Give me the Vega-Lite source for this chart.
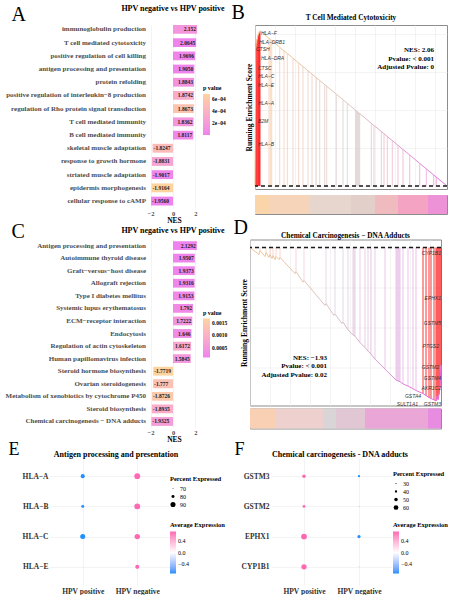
{
  "$schema": "https://vega.github.io/schema/vega-lite/v6.json",
  "background": "white",
  "padding": {"left": 5, "top": 1, "right": 0, "bottom": 0},
  "config": {
    "font": "Liberation Serif",
    "view": {"stroke": null},
    "axis": {"labelFont": "Liberation Serif", "titleFont": "Liberation Serif", "gridColor": "#EBEBEB", "gridWidth": 0.6, "domain": false, "ticks": false},
    "legend": {"labelFont": "Liberation Serif", "titleFont": "Liberation Serif"},
    "title": {"font": "Liberation Serif", "fontWeight": "bold", "color": "black", "frame": "group"}
  },
  "datasets": {
    "aTerms": [
      {"term": "immunoglobulin production", "NES": 2.152, "label": "2.152", "p": 0.00016},
      {"term": "T cell mediated cytotoxicity", "NES": 2.0645, "label": "2.0645", "p": 0.00002},
      {"term": "positive regulation of cell killing", "NES": 1.9696, "label": "1.9696", "p": 0.00003},
      {"term": "antigen processing and presentation", "NES": 1.905, "label": "1.9050", "p": 0.00002},
      {"term": "protein refolding", "NES": 1.8843, "label": "1.8843", "p": 0.00014},
      {"term": "positive regulation of interleukin−8 production", "NES": 1.8742, "label": "1.8742", "p": 0.00034},
      {"term": "regulation of Rho protein signal transduction", "NES": 1.8673, "label": "1.8673", "p": 0.00054},
      {"term": "T cell mediated immunity", "NES": 1.8362, "label": "1.8362", "p": 0.00016},
      {"term": "B cell mediated immunity", "NES": 1.8117, "label": "1.8117", "p": 0.00005},
      {"term": "skeletal muscle adaptation", "NES": -1.8247, "label": "-1.8247", "p": 0.00048},
      {"term": "response to growth hormone", "NES": -1.8831, "label": "-1.8831", "p": 0.00028},
      {"term": "striated muscle adaptation", "NES": -1.9017, "label": "-1.9017", "p": 0.00004},
      {"term": "epidermis morphogenesis", "NES": -1.9164, "label": "-1.9164", "p": 0.00068},
      {"term": "cellular response to cAMP", "NES": -1.956, "label": "-1.9560", "p": 0.000005}
    ],
    "cTerms": [
      {"term": "Antigen processing and presentation", "NES": 2.1292, "label": "2.1292", "p": 0.0001},
      {"term": "Autoimmune thyroid disease", "NES": 1.9507, "label": "1.9507", "p": 0.00015},
      {"term": "Graft−versus−host disease", "NES": 1.9373, "label": "1.9373", "p": 0.00015},
      {"term": "Allograft rejection", "NES": 1.9316, "label": "1.9316", "p": 0.00018},
      {"term": "Type I diabetes mellitus", "NES": 1.9153, "label": "1.9153", "p": 0.0002},
      {"term": "Systemic lupus erythematosus", "NES": 1.792, "label": "1.792", "p": 0.00025},
      {"term": "ECM−receptor interaction", "NES": 1.7222, "label": "1.7222", "p": 0.00045},
      {"term": "Endocytosis", "NES": 1.646, "label": "1.646", "p": 0.00025},
      {"term": "Regulation of actin cytoskeleton", "NES": 1.6172, "label": "1.6172", "p": 0.0008},
      {"term": "Human papillomavirus infection", "NES": 1.5845, "label": "1.5845", "p": 0.0005},
      {"term": "Steroid hormone biosynthesis", "NES": -1.7719, "label": "-1.7719", "p": 0.00166},
      {"term": "Ovarian steroidogenesis", "NES": -1.777, "label": "-1.777", "p": 0.0013},
      {"term": "Metabolism of xenobiotics by cytochrome P450", "NES": -1.8726, "label": "-1.8726", "p": 0.00145},
      {"term": "Steroid biosynthesis", "NES": -1.8935, "label": "-1.8935", "p": 0.0009},
      {"term": "Chemical carcinogenesis − DNA adducts", "NES": -1.9325, "label": "-1.9325", "p": 0.0006}
    ],
    "bES": [
      {"rank": 0, "es": 0, "type": "curve"},
      {"rank": 0.7, "es": 0.72, "type": "core"},
      {"rank": 1.2, "es": 0.75, "type": "core"},
      {"rank": 2, "es": 0.77, "type": "core"},
      {"rank": 2.8, "es": 0.79, "type": "core"},
      {"rank": 3.6, "es": 0.8, "type": "core"},
      {"rank": 4.4, "es": 0.81, "type": "core"},
      {"rank": 5, "es": 0.816, "type": "core"},
      {"rank": 14, "es": 0.777, "type": "hit"},
      {"rank": 15.3, "es": 0.771, "type": "hit"},
      {"rank": 16.7, "es": 0.765, "type": "hit"},
      {"rank": 24.7, "es": 0.73, "type": "hit"},
      {"rank": 29, "es": 0.711, "type": "hit"},
      {"rank": 32.3, "es": 0.697, "type": "hit"},
      {"rank": 38, "es": 0.672, "type": "hit"},
      {"rank": 43.7, "es": 0.647, "type": "hit"},
      {"rank": 48, "es": 0.628, "type": "hit"},
      {"rank": 53, "es": 0.606, "type": "hit"},
      {"rank": 57, "es": 0.589, "type": "hit"},
      {"rank": 61.3, "es": 0.57, "type": "hit"},
      {"rank": 64.7, "es": 0.555, "type": "hit"},
      {"rank": 69.7, "es": 0.534, "type": "hit"},
      {"rank": 71.7, "es": 0.525, "type": "hit"},
      {"rank": 81.3, "es": 0.483, "type": "hit"},
      {"rank": 88, "es": 0.454, "type": "hit"},
      {"rank": 92.3, "es": 0.435, "type": "hit"},
      {"rank": 100.7, "es": 0.398, "type": "hit"},
      {"rank": 101.7, "es": 0.394, "type": "hit"},
      {"rank": 102.7, "es": 0.39, "type": "hit"},
      {"rank": 103.7, "es": 0.385, "type": "hit"},
      {"rank": 104.7, "es": 0.381, "type": "hit"},
      {"rank": 116.3, "es": 0.33, "type": "hit"},
      {"rank": 119, "es": 0.318, "type": "hit"},
      {"rank": 126.3, "es": 0.287, "type": "hit"},
      {"rank": 129, "es": 0.275, "type": "hit"},
      {"rank": 132.3, "es": 0.26, "type": "hit"},
      {"rank": 137.3, "es": 0.239, "type": "hit"},
      {"rank": 143, "es": 0.214, "type": "hit"},
      {"rank": 148, "es": 0.192, "type": "hit"},
      {"rank": 154.7, "es": 0.163, "type": "hit"},
      {"rank": 164.7, "es": 0.119, "type": "hit"},
      {"rank": 171.3, "es": 0.09, "type": "hit"},
      {"rank": 178.7, "es": 0.058, "type": "hit"},
      {"rank": 181.3, "es": 0.047, "type": "hit"},
      {"rank": 192, "es": 0, "type": "curve"}
    ],
    "bGenes": [
      {"gene": "HLA−F", "rank": 6, "es": 0.805},
      {"gene": "HLA−DRB1", "rank": 4, "es": 0.758},
      {"gene": "CTSH", "rank": 1, "es": 0.721},
      {"gene": "HLA−DRA", "rank": 6, "es": 0.674},
      {"gene": "CTSC", "rank": 3, "es": 0.621},
      {"gene": "HLA−C", "rank": 3, "es": 0.579},
      {"gene": "HLA−E", "rank": 3, "es": 0.532},
      {"gene": "HLA−A", "rank": 3, "es": 0.437},
      {"gene": "B2M", "rank": 3, "es": 0.342},
      {"gene": "HLA−B", "rank": 3, "es": 0.221}
    ],
    "bStrip": [
      {"start": 0, "end": 15, "pos": 7.5},
      {"start": 15, "end": 55, "pos": 35},
      {"start": 55, "end": 96, "pos": 75.5},
      {"start": 96, "end": 120, "pos": 108},
      {"start": 120, "end": 143, "pos": 131.5},
      {"start": 143, "end": 173, "pos": 158},
      {"start": 173, "end": 192, "pos": 182.5}
    ],
    "dES": [
      {"rank": 0, "es": 0, "type": "curve"},
      {"rank": 9, "es": -0.035, "type": "curve"},
      {"rank": 10, "es": -0.015, "type": "hit"},
      {"rank": 15, "es": -0.045, "type": "curve"},
      {"rank": 16, "es": -0.025, "type": "hit"},
      {"rank": 19, "es": -0.05, "type": "curve"},
      {"rank": 20, "es": -0.035, "type": "hit"},
      {"rank": 22, "es": -0.055, "type": "curve"},
      {"rank": 23, "es": -0.04, "type": "hit"},
      {"rank": 25, "es": -0.06, "type": "curve"},
      {"rank": 26, "es": -0.045, "type": "hit"},
      {"rank": 29, "es": -0.06, "type": "curve"},
      {"rank": 30, "es": -0.05, "type": "hit"},
      {"rank": 45, "es": -0.13, "type": "curve"},
      {"rank": 46, "es": -0.12, "type": "hit"},
      {"rank": 53, "es": -0.173, "type": "curve"},
      {"rank": 54, "es": -0.165, "type": "hit"},
      {"rank": 75, "es": -0.29, "type": "curve"},
      {"rank": 76, "es": -0.28, "type": "hit"},
      {"rank": 84, "es": -0.34, "type": "curve"},
      {"rank": 85, "es": -0.333, "type": "hit"},
      {"rank": 92, "es": -0.38, "type": "curve"},
      {"rank": 93, "es": -0.373, "type": "hit"},
      {"rank": 98, "es": -0.412, "type": "hit"},
      {"rank": 103, "es": -0.437, "type": "hit"},
      {"rank": 104, "es": -0.44, "type": "hit"},
      {"rank": 105, "es": -0.443, "type": "hit"},
      {"rank": 110, "es": -0.475, "type": "hit"},
      {"rank": 115, "es": -0.5, "type": "hit"},
      {"rank": 118, "es": -0.518, "type": "hit"},
      {"rank": 121, "es": -0.533, "type": "hit"},
      {"rank": 125, "es": -0.558, "type": "hit"},
      {"rank": 135, "es": -0.608, "type": "hit"},
      {"rank": 146, "es": -0.663, "type": "hit"},
      {"rank": 147, "es": -0.665, "type": "hit"},
      {"rank": 148, "es": -0.667, "type": "hit"},
      {"rank": 149, "es": -0.669, "type": "hit"},
      {"rank": 150, "es": -0.671, "type": "hit"},
      {"rank": 153, "es": -0.682, "type": "hit"},
      {"rank": 158, "es": -0.693, "type": "hit"},
      {"rank": 163, "es": -0.706, "type": "hit"},
      {"rank": 166, "es": -0.715, "type": "hit"},
      {"rank": 173, "es": -0.73, "type": "core"},
      {"rank": 176, "es": -0.74, "type": "core"},
      {"rank": 179, "es": -0.75, "type": "core"},
      {"rank": 181, "es": -0.755, "type": "core"},
      {"rank": 184, "es": -0.762, "type": "core"},
      {"rank": 186, "es": -0.767, "type": "core"},
      {"rank": 187, "es": -0.745, "type": "core"},
      {"rank": 188, "es": -0.76, "type": "core"},
      {"rank": 189, "es": -0.735, "type": "core"},
      {"rank": 190, "es": -0.7, "type": "core"},
      {"rank": 191, "es": -0.59, "type": "core"}
    ],
    "dGenes": [
      {"gene": "CYP1B1", "rank": 191, "es": -0.025},
      {"gene": "EPHX1", "rank": 191, "es": -0.25},
      {"gene": "GSTM5", "rank": 191, "es": -0.375},
      {"gene": "PTGS2", "rank": 189, "es": -0.49},
      {"gene": "GSTM2", "rank": 189, "es": -0.595},
      {"gene": "GSTM4", "rank": 191, "es": -0.65},
      {"gene": "AKR1C2", "rank": 191, "es": -0.7},
      {"gene": "GSTA4", "rank": 171, "es": -0.74},
      {"gene": "SULT1A1", "rank": 168, "es": -0.78},
      {"gene": "GSTM3", "rank": 191, "es": -0.78}
    ],
    "dStrip": [
      {"start": 0, "end": 26, "pos": 13},
      {"start": 26, "end": 73, "pos": 49.5},
      {"start": 73, "end": 86, "pos": 79.5},
      {"start": 86, "end": 115, "pos": 100.5},
      {"start": 115, "end": 178, "pos": 146.5},
      {"start": 178, "end": 191, "pos": 184.5}
    ],
    "eDots": [
      {"gene": "HLA−A", "group": "HPV positive", "pct": 85, "avg": -0.7071},
      {"gene": "HLA−A", "group": "HPV negative", "pct": 93.5, "avg": 0.7071},
      {"gene": "HLA−B", "group": "HPV positive", "pct": 80, "avg": -0.7071},
      {"gene": "HLA−B", "group": "HPV negative", "pct": 93, "avg": 0.7071},
      {"gene": "HLA−C", "group": "HPV positive", "pct": 89.5, "avg": -0.7071},
      {"gene": "HLA−C", "group": "HPV negative", "pct": 91.5, "avg": 0.7071},
      {"gene": "HLA−E", "group": "HPV positive", "pct": 67, "avg": -0.7071},
      {"gene": "HLA−E", "group": "HPV negative", "pct": 85, "avg": 0.7071}
    ],
    "fDots": [
      {"gene": "GSTM3", "group": "HPV positive", "pct": 50, "avg": 0.7071},
      {"gene": "GSTM3", "group": "HPV negative", "pct": 40, "avg": -0.7071},
      {"gene": "GSTM2", "group": "HPV positive", "pct": 44, "avg": 0.7071},
      {"gene": "GSTM2", "group": "HPV negative", "pct": 24, "avg": -0.7071},
      {"gene": "EPHX1", "group": "HPV positive", "pct": 69, "avg": 0.7071},
      {"gene": "EPHX1", "group": "HPV negative", "pct": 47, "avg": -0.7071},
      {"gene": "CYP1B1", "group": "HPV positive", "pct": 65, "avg": 0.7071},
      {"gene": "CYP1B1", "group": "HPV negative", "pct": 24, "avg": -0.7071}
    ]
  },
  "resolve": {"scale": {"color": "independent", "size": "independent"}, "legend": {"color": "independent", "size": "independent"}},
  "spacing": -3,
  "vconcat": [
    {
      "resolve": {"scale": {"color": "independent", "size": "independent"}, "legend": {"color": "independent", "size": "independent"}},
      "spacing": -7.5,
      "vconcat": [
        {
          "resolve": {"scale": {"color": "independent"}, "legend": {"color": "independent"}},
          "spacing": 56,
          "bounds": "flush",
          "hconcat": [
            {
              "width": 149, "height": 183,
              "title": {"text": "HPV negative vs HPV positive", "anchor": "middle", "dx": 48.5, "offset": -9, "fontSize": 8},
              "data": {"name": "aTerms"},
              "encoding": {
                "y": {"field": "term", "type": "nominal", "sort": null,
                  "scale": {"paddingInner": 0.33, "paddingOuter": 0.095, "align": 0},
                  "axis": {"title": "A", "titleX": -136, "titleY": -21, "titleAngle": 0, "titleAlign": "left", "titleBaseline": "top", "titleFontSize": 20, "titleFontWeight": "normal", "titleColor": "black", "offset": -97, "labelFontSize": 7, "labelFontWeight": "bold", "labelColor": "#4D4D4D", "labelPadding": 1.5, "labelLimit": 0, "grid": false}}
              },
              "layer": [
                {
                  "mark": {"type": "bar"},
                  "encoding": {
                    "x": {"field": "NES", "type": "quantitative", "scale": {"domain": [-10.982, 2.321], "nice": false},
                      "axis": {"title": "NES", "values": [-2, -1, 0, 1, 2], "format": "d", "labelOverlap": false, "labelFlush": false, "labelFontSize": 6.5, "labelFontWeight": "bold", "labelColor": "#4D4D4D", "labelPadding": 2, "titleFontSize": 7.5, "titleFontWeight": "bold", "titleX": 124, "titleY": 8, "titleAlign": "center", "titleBaseline": "top", "grid": true}},
                    "color": {"field": "p", "type": "quantitative",
                      "scale": {"domain": [0.000005, 0.00068], "range": ["#EE82EE", "#FDD3A0"], "interpolate": "lab"},
                      "legend": {"title": "p value", "orient": "none", "legendX": 153, "legendY": 60, "direction": "vertical", "gradientLength": 41, "gradientThickness": 7, "gradientStrokeWidth": 0, "values": [0.0002, 0.0004, 0.0006], "labelExpr": "format(datum.value * 10000, '.0f') + 'e−04'", "titleFontSize": 6, "titleFontWeight": "bold", "labelFontSize": 5.5, "labelFontWeight": "bold", "labelOffset": 2, "titlePadding": 3}}
                  }
                },
                {
                  "transform": [{"filter": "datum.NES > 0"}],
                  "mark": {"type": "text", "align": "right", "baseline": "middle", "dx": -1, "fontSize": 5.5, "fontWeight": "bold", "color": "#1A1A1A"},
                  "encoding": {"x": {"field": "NES", "type": "quantitative"}, "text": {"field": "label"}}
                },
                {
                  "transform": [{"filter": "datum.NES < 0"}],
                  "mark": {"type": "text", "align": "left", "baseline": "middle", "dx": 1, "fontSize": 5.5, "fontWeight": "bold", "color": "#1A1A1A"},
                  "encoding": {"x": {"field": "NES", "type": "quantitative"}, "text": {"field": "label"}}
                }
              ]
            },
            {
              "resolve": {"scale": {"color": "independent"}, "legend": {"color": "independent"}},
              "spacing": 6,
              "bounds": "flush",
              "vconcat": [
                {
                  "width": 192, "height": 164,
                  "view": {"stroke": "#8C8C8C", "strokeWidth": 1},
                  "title": {"text": "T Cell Mediated Cytotoxicity", "fontSize": 7.3, "offset": -19},
                  "layer": [
                    {
                      "data": {"name": "bES"},
                      "transform": [{"filter": "datum.type !== 'curve'"}],
                      "mark": {"type": "rule", "strokeWidth": 0.8},
                      "encoding": {
                        "x": {"field": "rank", "type": "quantitative", "scale": {"domain": [0, 192], "nice": false, "zero": false},
                          "axis": {"title": "B", "titleX": -24, "titleY": -187, "titleAngle": 0, "titleAlign": "left", "titleBaseline": "top", "titleFontSize": 20, "titleFontWeight": "normal", "titleColor": "black", "labels": false, "grid": true, "tickCount": 8}},
                        "y": {"field": "es", "type": "quantitative", "scale": {"domain": [-0.0158, 0.847], "nice": false, "zero": false},
                          "axis": {"title": "Running Enrichment Score", "labels": false, "grid": true, "tickCount": 5, "titleFontSize": 7.5, "titleFontWeight": "bold", "titlePadding": 2, "titleColor": "black"}},
                        "y2": {"datum": 0},
                        "color": {"condition": {"test": "datum.type === 'core'", "value": "#FF0000"}, "field": "rank", "type": "quantitative",
                          "scale": {"domain": [0, 96, 192], "range": ["#F7C48E", "#CBC4C4", "#E583E1"]}, "legend": null},
                        "opacity": {"condition": {"test": "datum.type === 'core'", "value": 1}, "value": 0.8}
                      }
                    },
                    {
                      "data": {"name": "bES"},
                      "mark": {"type": "line", "strokeWidth": 1,
                        "color": {"gradient": "linear", "x1": 0, "x2": 1, "y1": 0, "y2": 0, "stops": [{"offset": 0, "color": "#F8C48C"}, {"offset": 0.5, "color": "#D9C6C0"}, {"offset": 1, "color": "#E36FE2"}]}},
                      "encoding": {"x": {"field": "rank", "type": "quantitative"}, "y": {"field": "es", "type": "quantitative"}}
                    },
                    {
                      "data": {"values": [{}]},
                      "mark": {"type": "rule", "strokeDash": [4, 3], "color": "#1A1A1A", "strokeWidth": 1.3},
                      "encoding": {"y": {"datum": 0, "type": "quantitative"}}
                    },
                    {
                      "data": {"name": "bGenes"},
                      "mark": {"type": "text", "align": "left", "baseline": "middle", "font": "Liberation Sans", "fontStyle": "italic", "fontSize": 5, "color": "#333333"},
                      "encoding": {"x": {"field": "rank", "type": "quantitative"}, "y": {"field": "es", "type": "quantitative"}, "text": {"field": "gene"}}
                    },
                    {
                      "data": {"values": [{"label": ["NES: 2.06", "Pvalue: < 0.001", "Adjusted Pvalue: 0"]}]},
                      "mark": {"type": "text", "align": "right", "baseline": "top", "fontSize": 7, "fontWeight": "bold", "lineHeight": 8.3, "color": "black"},
                      "encoding": {"x": {"datum": 179, "type": "quantitative"}, "y": {"datum": 0.734, "type": "quantitative"}, "text": {"field": "label"}}
                    }
                  ]
                },
                {
                  "width": 192, "height": 19,
                  "view": {"stroke": "#8C8C8C", "strokeWidth": 1},
                  "data": {"name": "bStrip"},
                  "mark": {"type": "rect"},
                  "encoding": {
                    "x": {"field": "start", "type": "quantitative", "scale": {"domain": [0, 192], "nice": false, "zero": false}, "axis": null},
                    "x2": {"field": "end"},
                    "color": {"field": "pos", "type": "quantitative", "scale": {"domain": [0, 96, 192], "range": ["#FBD5A5", "#DDD8D6", "#E48DE2"]}, "legend": null}
                  }
                }
              ]
            }
          ]
        },
        {
          "resolve": {"scale": {"color": "independent"}, "legend": {"color": "independent"}},
          "spacing": 51,
          "bounds": "flush",
          "hconcat": [
            {
              "width": 149, "height": 188,
              "title": {"text": "HPV negative vs HPV positive", "anchor": "middle", "dx": 48.5, "offset": -13.5, "fontSize": 8},
              "data": {"name": "cTerms"},
              "encoding": {
                "y": {"field": "term", "type": "nominal", "sort": null,
                  "scale": {"paddingInner": 0.3, "paddingOuter": 0.13},
                  "axis": {"title": "C", "titleX": -136, "titleY": -18, "titleAngle": 0, "titleAlign": "left", "titleBaseline": "top", "titleFontSize": 20, "titleFontWeight": "normal", "titleColor": "black", "offset": -97, "labelFontSize": 7, "labelFontWeight": "bold", "labelColor": "#4D4D4D", "labelPadding": 1.5, "labelLimit": 0, "grid": false}}
              },
              "layer": [
                {
                  "mark": {"type": "bar"},
                  "encoding": {
                    "x": {"field": "NES", "type": "quantitative", "scale": {"domain": [-10.982, 2.321], "nice": false},
                      "axis": {"title": "NES", "values": [-2, -1, 0, 1, 2], "format": "d", "labelOverlap": false, "labelFlush": false, "labelFontSize": 6.5, "labelFontWeight": "bold", "labelColor": "#4D4D4D", "labelPadding": 2, "titleFontSize": 7.5, "titleFontWeight": "bold", "titleX": 124, "titleY": 8, "titleAlign": "center", "titleBaseline": "top", "grid": true}},
                    "color": {"field": "p", "type": "quantitative",
                      "scale": {"domain": [0.0001, 0.00166], "range": ["#EE82EE", "#FDD3A0"], "interpolate": "lab"},
                      "legend": {"title": "p value", "orient": "none", "legendX": 153, "legendY": 70, "direction": "vertical", "gradientLength": 39, "gradientThickness": 7, "gradientStrokeWidth": 0, "values": [0.0005, 0.001, 0.0015], "labelExpr": "format(datum.value, '.4f')", "titleFontSize": 6, "titleFontWeight": "bold", "labelFontSize": 5.5, "labelFontWeight": "bold", "labelOffset": 2, "titlePadding": 3}}
                  }
                },
                {
                  "transform": [{"filter": "datum.NES > 0"}],
                  "mark": {"type": "text", "align": "right", "baseline": "middle", "dx": -1, "fontSize": 5.5, "fontWeight": "bold", "color": "#1A1A1A"},
                  "encoding": {"x": {"field": "NES", "type": "quantitative"}, "text": {"field": "label"}}
                },
                {
                  "transform": [{"filter": "datum.NES < 0"}],
                  "mark": {"type": "text", "align": "left", "baseline": "middle", "dx": 1, "fontSize": 5.5, "fontWeight": "bold", "color": "#1A1A1A"},
                  "encoding": {"x": {"field": "NES", "type": "quantitative"}, "text": {"field": "label"}}
                }
              ]
            },
            {
              "resolve": {"scale": {"color": "independent"}, "legend": {"color": "independent"}},
              "spacing": 3,
              "bounds": "flush",
              "vconcat": [
                {
                  "width": 191, "height": 166,
                  "view": {"stroke": "#8C8C8C", "strokeWidth": 1},
                  "title": {"text": "Chemical Carcinogenesis − DNA Adducts", "fontSize": 7.3, "offset": -22},
                  "layer": [
                    {
                      "data": {"name": "dES"},
                      "transform": [{"filter": "datum.type !== 'curve'"}],
                      "mark": {"type": "rule", "strokeWidth": 0.8},
                      "encoding": {
                        "x": {"field": "rank", "type": "quantitative", "scale": {"domain": [0, 191], "nice": false, "zero": false},
                          "axis": {"title": "D", "titleX": -17, "titleY": -188, "titleAngle": 0, "titleAlign": "left", "titleBaseline": "top", "titleFontSize": 20, "titleFontWeight": "normal", "titleColor": "black", "labels": false, "grid": true, "tickCount": 8}},
                        "y": {"field": "es", "type": "quantitative", "scale": {"domain": [-0.79, 0.04], "nice": false, "zero": false},
                          "axis": {"title": "Running Enrichment Score", "labels": false, "grid": true, "tickCount": 5, "titleFontSize": 7.5, "titleFontWeight": "bold", "titlePadding": 2, "titleColor": "black"}},
                        "y2": {"datum": 0},
                        "color": {"condition": {"test": "datum.type === 'core'", "value": "#FF0000"}, "field": "rank", "type": "quantitative",
                          "scale": {"domain": [0, 85, 191], "range": ["#F5C597", "#D5C5D3", "#E58AE2"]}, "legend": null},
                        "opacity": {"condition": {"test": "datum.type === 'core'", "value": 1}, "value": 0.8}
                      }
                    },
                    {
                      "data": {"name": "dES"},
                      "mark": {"type": "line", "strokeWidth": 1,
                        "color": {"gradient": "linear", "x1": 0, "x2": 1, "y1": 0, "y2": 0, "stops": [{"offset": 0, "color": "#F5C48E"}, {"offset": 0.45, "color": "#D6C3C6"}, {"offset": 1, "color": "#E060E0"}]}},
                      "encoding": {"x": {"field": "rank", "type": "quantitative"}, "y": {"field": "es", "type": "quantitative"}}
                    },
                    {
                      "data": {"values": [{}]},
                      "mark": {"type": "rule", "strokeDash": [4, 3], "color": "#1A1A1A", "strokeWidth": 1.3},
                      "encoding": {"y": {"datum": 0, "type": "quantitative"}}
                    },
                    {
                      "data": {"name": "dGenes"},
                      "mark": {"type": "text", "align": "right", "baseline": "middle", "font": "Liberation Sans", "fontStyle": "italic", "fontSize": 5, "color": "#333333"},
                      "encoding": {"x": {"field": "rank", "type": "quantitative"}, "y": {"field": "es", "type": "quantitative"}, "text": {"field": "gene"}}
                    },
                    {
                      "data": {"values": [{"label": ["NES: −1.93", "Pvalue: < 0.001", "Adjusted Pvalue: 0.02"]}]},
                      "mark": {"type": "text", "align": "right", "baseline": "top", "fontSize": 7, "fontWeight": "bold", "lineHeight": 8.5, "color": "black"},
                      "encoding": {"x": {"datum": 77, "type": "quantitative"}, "y": {"datum": -0.53, "type": "quantitative"}, "text": {"field": "label"}}
                    }
                  ]
                },
                {
                  "width": 191, "height": 20,
                  "view": {"stroke": "#8C8C8C", "strokeWidth": 1},
                  "data": {"name": "dStrip"},
                  "mark": {"type": "rect"},
                  "encoding": {
                    "x": {"field": "start", "type": "quantitative", "scale": {"domain": [0, 191], "nice": false, "zero": false}, "axis": null},
                    "x2": {"field": "end"},
                    "color": {"field": "pos", "type": "quantitative", "scale": {"domain": [0, 80, 191], "range": ["#F6D3A8", "#D9D4D6", "#E688E4"]}, "legend": null}
                  }
                }
              ]
            }
          ]
        }
      ]
    },
    {
      "resolve": {"scale": {"color": "independent", "size": "independent"}, "legend": {"color": "independent", "size": "independent"}},
      "spacing": 101,
      "bounds": "flush",
      "hconcat": [
        {
          "width": 120, "height": 127,
          "title": {"text": "Antigen processing and presentation", "fontSize": 8, "offset": -18.5, "dx": 6},
          "data": {"name": "eDots"},
          "mark": {"type": "circle", "opacity": 1},
          "encoding": {
            "x": {"field": "group", "type": "nominal", "sort": ["HPV positive", "HPV negative"], "scale": {"type": "point", "padding": 0.6},
              "axis": {"title": null, "labelAngle": 0, "grid": true, "labelFontSize": 7.5, "labelFontWeight": "bold", "labelColor": "#333333", "labelPadding": 2}},
            "y": {"field": "gene", "type": "nominal", "sort": ["HLA−A", "HLA−B", "HLA−C", "HLA−E"], "scale": {"type": "point", "padding": 0.6},
              "axis": {"title": "E", "titleX": -42, "titleY": -18, "titleAngle": 0, "titleAlign": "left", "titleBaseline": "top", "titleFontSize": 18, "titleFontWeight": "normal", "titleColor": "black", "grid": true, "labelFontSize": 7.5, "labelFontWeight": "bold", "labelColor": "#333333", "labelPadding": 2}},
            "size": {"field": "pct", "type": "quantitative",
              "scale": {"domain": [66, 70, 75, 80, 85, 90, 94], "range": [0, 0.7, 3.7, 8.9, 16.3, 26, 35.5]},
              "legend": {"title": "Percent Expressed", "orient": "none", "legendX": 120, "legendY": 18, "values": [70, 80, 90], "symbolFillColor": "black", "symbolStrokeWidth": 0, "symbolType": "circle", "titleFontSize": 6.5, "titleFontWeight": "bold", "labelFontSize": 6, "rowPadding": 2, "titlePadding": 3}},
            "color": {"field": "avg", "type": "quantitative",
              "scale": {"domain": [-0.7071, 0, 0.7071], "range": ["#1E90FF", "#FFFFFF", "#FF69B4"], "interpolate": "lab"},
              "legend": {"title": "Average Expression", "orient": "none", "legendX": 120, "legendY": 64, "direction": "vertical", "gradientLength": 42, "gradientThickness": 6, "gradientStrokeWidth": 0, "values": [-0.4, 0, 0.4], "format": ".1f", "titleFontSize": 6.5, "titleFontWeight": "bold", "labelFontSize": 6, "titlePadding": 3}}
          }
        },
        {
          "width": 121, "height": 127,
          "title": {"text": "Chemical carcinogenesis - DNA adducts", "fontSize": 8, "offset": -18.5, "dx": 8.5},
          "data": {"name": "fDots"},
          "mark": {"type": "circle", "opacity": 1},
          "encoding": {
            "x": {"field": "group", "type": "nominal", "sort": ["HPV positive", "HPV negative"], "scale": {"type": "point", "padding": 0.6},
              "axis": {"title": null, "labelAngle": 0, "grid": true, "labelFontSize": 7.5, "labelFontWeight": "bold", "labelColor": "#333333", "labelPadding": 2}},
            "y": {"field": "gene", "type": "nominal", "sort": ["GSTM3", "GSTM2", "EPHX1", "CYP1B1"], "scale": {"type": "point", "padding": 0.6},
              "axis": {"title": "F", "titleX": -37, "titleY": -18, "titleAngle": 0, "titleAlign": "left", "titleBaseline": "top", "titleFontSize": 18, "titleFontWeight": "normal", "titleColor": "black", "grid": true, "labelFontSize": 7.5, "labelFontWeight": "bold", "labelColor": "#333333", "labelPadding": 2}},
            "size": {"field": "pct", "type": "quantitative",
              "scale": {"domain": [21, 30, 40, 50, 60, 70], "range": [0, 1.2, 5.2, 12.2, 22, 34.8]},
              "legend": {"title": "Percent Expressed", "orient": "none", "legendX": 122, "legendY": 13, "values": [30, 40, 50, 60], "symbolFillColor": "black", "symbolStrokeWidth": 0, "symbolType": "circle", "titleFontSize": 6.5, "titleFontWeight": "bold", "labelFontSize": 6, "rowPadding": 2, "titlePadding": 3}},
            "color": {"field": "avg", "type": "quantitative",
              "scale": {"domain": [-0.7071, 0, 0.7071], "range": ["#1E90FF", "#FFFFFF", "#FF69B4"], "interpolate": "lab"},
              "legend": {"title": "Average Expression", "orient": "none", "legendX": 122, "legendY": 64, "direction": "vertical", "gradientLength": 42, "gradientThickness": 6, "gradientStrokeWidth": 0, "values": [-0.4, 0, 0.4], "format": ".1f", "titleFontSize": 6.5, "titleFontWeight": "bold", "labelFontSize": 6, "titlePadding": 3}}
          }
        }
      ]
    }
  ]
}
